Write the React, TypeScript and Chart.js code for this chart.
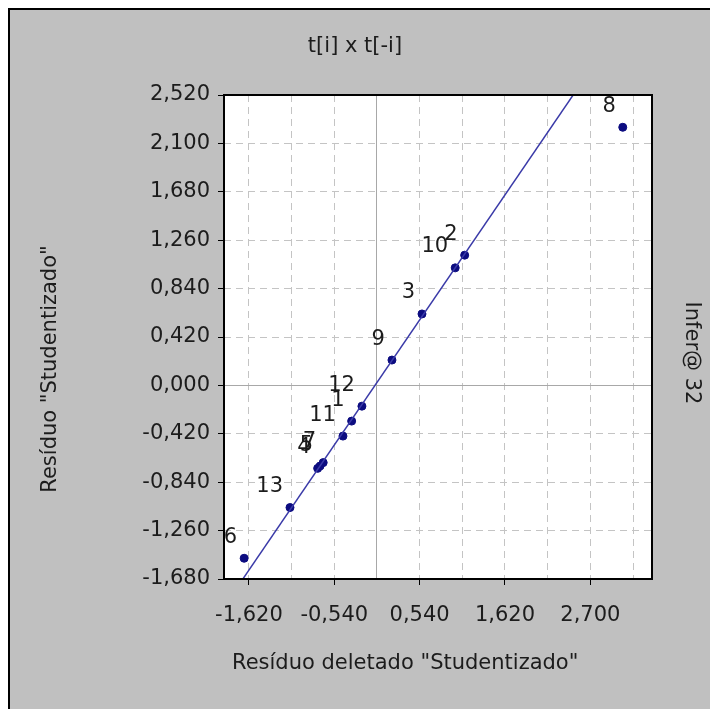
import { useEffect, useRef } from 'react';
import { Chart, registerables } from 'chart.js';

Chart.register(...registerables);

// ---- data ----
const pointLabels = ['1', '2', '3', '4', '5', '6', '7', '8', '9', '10', '11', '12', '13'];
const xValues = [-0.32, 1.11, 0.57, -0.75, -0.72, -1.68, -0.68, 3.11, 0.19, 0.99, -0.43, -0.19, -1.10];
const yValues = [-0.31, 1.13, 0.62, -0.72, -0.70, -1.50, -0.67, 2.24, 0.22, 1.02, -0.44, -0.18, -1.06];

const fitSlope = 1.005;
const fitIntercept = 0.025;

const xMin = -1.935;
const xMax = 3.48;
const xTickStart = -1.62;
const xTickStep = 0.54;
const xTickCount = 10;
const yMin = -1.68;
const yMax = 2.52;
const yTickStep = 0.42;
const yTickCount = 11;

const titleText = 't[i] x t[-i]';
const xTitleText = 'Resíduo deletado "Studentizado"';
const yTitleText = 'Resíduo "Studentizado"';
const sideText = 'Infer@ 32';

const FONT = '"DejaVu Sans", "Liberation Sans", Arial, sans-serif';

const fmt = (v: number) => (Math.abs(v) < 1e-9 ? 0 : v).toFixed(3).replace('.', ',');

export default function App() {
  const ref = useRef<HTMLCanvasElement | null>(null);

  useEffect(() => {
    if (!ref.current) return;
    const textPlugin = {
      id: 'decor',
      beforeDraw(chart: any) {
        const { ctx, chartArea: a } = chart;
        ctx.save();
        ctx.fillStyle = '#ffffff';
        ctx.fillRect(a.left, a.top, a.right - a.left, a.bottom - a.top);
        ctx.restore();
      },
      afterDraw(chart: any) {
        const { ctx, chartArea: a } = chart;
        ctx.save();
        ctx.strokeStyle = '#000';
        ctx.lineWidth = 2;
        ctx.strokeRect(a.left, a.top, a.right - a.left, a.bottom - a.top);

        ctx.fillStyle = '#1c1c1c';
        ctx.font = `21px ${FONT}`;
        ctx.textBaseline = 'middle';
        // point labels
        const meta = chart.getDatasetMeta(1);
        meta.data.forEach((el: any, i: number) => {
          ctx.textAlign = 'right';
          ctx.fillText(pointLabels[i], el.x - 7, el.y - 21);
        });
        // title
        ctx.textAlign = 'center';
        ctx.fillText(titleText, 345, 37);
        // x title
        ctx.textAlign = 'left';
        ctx.fillText(xTitleText, 222, 654);
        // y title
        ctx.save();
        ctx.translate(41, 359);
        ctx.rotate(-Math.PI / 2);
        ctx.textAlign = 'center';
        ctx.fillText(yTitleText, 0, 0);
        ctx.restore();
        // side text
        ctx.save();
        ctx.translate(681, 343);
        ctx.rotate(Math.PI / 2);
        ctx.textAlign = 'center';
        ctx.fillText(sideText, 0, 0);
        ctx.restore();
        ctx.restore();
      },
    };

    const isZero = (v: number) => Math.abs(v) < 1e-9;

    const chart = new Chart(ref.current, {
      type: 'scatter',
      data: {
        datasets: [
          {
            label: 'fit',
            data: [
              { x: xMin, y: fitSlope * xMin + fitIntercept },
              { x: xMax, y: fitSlope * xMax + fitIntercept },
            ],
            showLine: true,
            borderColor: '#3a3aa8',
            borderWidth: 1.5,
            pointRadius: 0,
          },
          {
            label: 'pts',
            data: xValues.map((x, i) => ({ x, y: yValues[i] })),
            backgroundColor: '#0c0c80',
            borderColor: '#0c0c80',
            pointRadius: 4,
          },
        ],
      },
      options: {
        responsive: false,
        animation: false,
        devicePixelRatio: 1,
        layout: { padding: { left: 0, top: 85, right: 58, bottom: 68 } },
        plugins: { legend: { display: false }, tooltip: { enabled: false }, title: { display: false } },
        scales: {
          x: {
            type: 'linear',
            min: xMin,
            max: xMax,
            afterBuildTicks: (s: any) => {
              s.ticks = Array.from({ length: xTickCount }, (_, k) => ({ value: xTickStart + k * xTickStep }));
            },
            afterFit: (s: any) => {
              s.height = 60;
            },
            ticks: {
              autoSkip: false,
              maxRotation: 0,
              padding: 18,
              color: '#1c1c1c',
              font: { family: FONT, size: 21 },
              callback: (v: any, i: number) => (i % 2 === 0 ? fmt(Number(v)) : ''),
            },
            grid: {
              color: (c: any) => (isZero(c.tick?.value ?? 1) ? '#a8a8a8' : '#c4c4c4'),
              tickColor: (c: any) => (c.index % 2 === 0 ? '#000' : 'rgba(0,0,0,0)'),
              tickLength: 6,
              lineWidth: 1,
            },
            border: {
              display: false,
              dash: (c: any) => (isZero(c.tick?.value ?? 1) ? [] : [7, 5]),
            },
          },
          y: {
            type: 'linear',
            min: yMin,
            max: yMax,
            afterBuildTicks: (s: any) => {
              s.ticks = Array.from({ length: yTickCount }, (_, k) => ({ value: yMin + k * yTickStep }));
            },
            afterFit: (s: any) => {
              s.width = 214;
            },
            ticks: {
              autoSkip: false,
              padding: 8,
              color: '#1c1c1c',
              font: { family: FONT, size: 21 },
              callback: (v: any) => fmt(Number(v)),
            },
            grid: {
              color: (c: any) => (isZero(c.tick?.value ?? 1) ? '#a8a8a8' : '#c4c4c4'),
              tickColor: '#000',
              tickLength: 6,
              lineWidth: 1,
            },
            border: {
              display: false,
              dash: (c: any) => (isZero(c.tick?.value ?? 1) ? [] : [7, 5]),
            },
          },
        },
      },
      plugins: [textPlugin],
    } as any);
    return () => chart.destroy();
  }, []);

  return (
    <div
      style={{
        position: 'fixed',
        left: 8,
        top: 8,
        width: 700,
        height: 699,
        borderTop: '2px solid #000',
        borderLeft: '2px solid #000',
        background: '#c0c0c0',
      }}
    >
      <canvas ref={ref} width={700} height={697} style={{ display: 'block', width: 700, height: 697 }} />
    </div>
  );
}
